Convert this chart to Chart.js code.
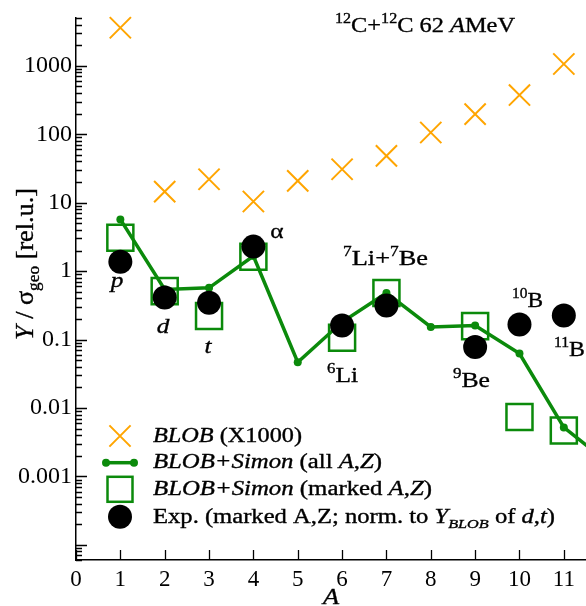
<!DOCTYPE html>
<html><head><meta charset="utf-8">
<script src="https://cdn.jsdelivr.net/npm/chart.js@4.4.1/dist/chart.umd.min.js"></script>
<style>html,body{margin:0;padding:0;background:#fff;}canvas{display:block;}</style>
</head><body>
<canvas id="c" width="586" height="606"></canvas>
<script>
// ---- data ----
const massNumbers   = [1, 2, 3, 4, 5, 6, 7, 8, 9, 10, 11];
const blobTimes1000 = [3600, 14.5, 22, 10.4, 20.8, 30.8, 48.3, 106, 197, 374, 1063];
const simonAllA     = [1, 2, 3, 4, 5, 6, 7, 8, 9, 10, 11, 12];
const simonAll      = [5.7, 0.54, 0.57, 1.66, 0.0466, 0.18, 0.48, 0.153, 0.16, 0.0624, 0.0052, 0.0016];
const markedA       = [1, 2, 3, 4, 6, 7, 9, 10, 11];
const simonMarked   = [3.08, 0.51, 0.22, 1.62, 0.106, 0.48, 0.157, 0.0074, 0.0047];
const expMarked     = [1.37, 0.41, 0.345, 2.28, 0.16, 0.315, 0.078, 0.166, 0.225];
const xTickValues   = [0, 1, 2, 3, 4, 5, 6, 7, 8, 9, 10, 11];
const xTickLabels   = ['0','1','2','3','4','5','6','7','8','9','10','11'];
const yTickValues   = [0.001, 0.01, 0.1, 1, 10, 100, 1000];
const yTickLabels   = ['0.001','0.01','0.1','1','10','100','1000'];

const FONT = '"Liberation Serif", "Times New Roman", serif';
const GREEN = '#0b8a0b';
const ORANGE = '#ffa500';

function pts(xs, ys) { return xs.map((x, i) => ({x: x, y: ys[i]})); }

// ---- rich text helper ----
function segFont(s, size) {
  const sz = (s.sup || s.sub) ? size * 0.66 : size;
  return (s.it ? 'italic ' : '') + sz.toFixed(2) + 'px ' + FONT;
}
function richWidth(ctx, segs, size) {
  let w = 0;
  for (const s of segs) { ctx.font = segFont(s, size); w += ctx.measureText(s.t).width; }
  return w;
}
function drawRich(ctx, segs, o) {
  const nat = richWidth(ctx, segs, o.size);
  const sx = o.width ? o.width / nat : (o.stretch || 1);
  const total = nat * sx;
  ctx.save();
  ctx.translate(o.x, o.y);
  if (o.rotate) ctx.rotate(-Math.PI / 2);
  let off = 0;
  if (o.align === 'center') off = -total / 2; else if (o.align === 'right') off = -total;
  ctx.translate(off, 0);
  ctx.scale(sx, 1);
  ctx.fillStyle = '#000';
  ctx.strokeStyle = '#000';
  ctx.lineWidth = 0.35;
  ctx.textAlign = 'left';
  ctx.textBaseline = 'alphabetic';
  let x = 0;
  for (const s of segs) {
    ctx.font = segFont(s, o.size);
    const dy = s.sup ? -0.40 * o.size : (s.sub ? 0.24 * o.size : 0);
    ctx.fillText(s.t, x, dy);
    ctx.strokeText(s.t, x, dy);
    x += ctx.measureText(s.t).width;
  }
  ctx.restore();
}

// ---- inward tick marks drawn through the chart's own scales ----
const tickPlugin = {
  id: 'inwardTicks',
  afterDraw(chart) {
    const ctx = chart.ctx, ys = chart.scales.y, xs = chart.scales.x, a = chart.chartArea;
    ctx.save();
    ctx.strokeStyle = '#000';
    ctx.lineWidth = 1.3;
    ctx.beginPath();
    for (let d = -5; d <= 3; d++) {
      for (let m = 1; m <= 9; m++) {
        const v = m * Math.pow(10, d);
        if (v < ys.min * 0.999 || v > ys.max * 1.001) continue;
        const y = Math.round(ys.getPixelForValue(v)) + 0.5;
        const len = m === 1 ? 11 : 6;
        ctx.moveTo(a.left, y); ctx.lineTo(a.left + len, y);
      }
    }
    for (const v of xTickValues) {
      const x = Math.round(xs.getPixelForValue(v)) + 0.5;
      ctx.moveTo(x, a.bottom); ctx.lineTo(x, a.bottom - 10);
    }
    ctx.stroke();
    ctx.restore();
  }
};

// ---- texts: title, axis titles, annotations, legend ----
const textPlugin = {
  id: 'texts',
  afterDraw(chart) {
    const ctx = chart.ctx;
    const ds = chart.data.datasets;
    // title
    drawRich(ctx, [{t:'12',sup:1},{t:'C+'},{t:'12',sup:1},{t:'C 62 '},{t:'A',it:1},{t:'MeV'}],
      {x: 335, y: 31.5, size: 22, width: 180});
    // axis titles
    drawRich(ctx, [{t:'Y',it:1},{t:' / σ'},{t:'geo',sub:1},{t:' [rel.u.]'}],
      {x: 33, y: 340, size: 25, width: 152, rotate: true});
    drawRich(ctx, [{t:'A',it:1}], {x: 331, y: 604, size: 24, align: 'center', stretch: 1.1});
    // annotations
    const S = 22, ST = 1.15;
    drawRich(ctx, [{t:'p',it:1}], {x: 117, y: 287, size: S, align: 'center', stretch: ST});
    drawRich(ctx, [{t:'d',it:1}], {x: 163, y: 333, size: S, align: 'center', stretch: ST});
    drawRich(ctx, [{t:'t',it:1}], {x: 208, y: 353, size: S, align: 'center', stretch: ST});
    drawRich(ctx, [{t:'α'}], {x: 277, y: 238, size: S, align: 'center', stretch: ST});
    drawRich(ctx, [{t:'7',sup:1},{t:'Li+'},{t:'7',sup:1},{t:'Be'}], {x: 343, y: 265, size: S, width: 85});
    drawRich(ctx, [{t:'6',sup:1},{t:'Li'}], {x: 327, y: 381.5, size: S, width: 31});
    drawRich(ctx, [{t:'9',sup:1},{t:'Be'}], {x: 453, y: 386.5, size: S, width: 37});
    drawRich(ctx, [{t:'10',sup:1},{t:'B'}], {x: 512, y: 306.5, size: S, width: 31});
    drawRich(ctx, [{t:'11',sup:1},{t:'B'}], {x: 554, y: 356, size: S, width: 31});

    // legend
    const sx = 120, tx = 153;
    const rows = [436, 462.7, 489.3, 516.7];
    const base = [441.7, 468, 494.5, 523];
    ctx.save();
    ctx.strokeStyle = ds[1].pointBorderColor; ctx.lineWidth = ds[1].pointBorderWidth;
    ctx.beginPath();
    ctx.moveTo(sx - 10.6, rows[0] - 10.6); ctx.lineTo(sx + 10.6, rows[0] + 10.6);
    ctx.moveTo(sx - 10.6, rows[0] + 10.6); ctx.lineTo(sx + 10.6, rows[0] - 10.6);
    ctx.stroke();
    ctx.strokeStyle = ds[2].borderColor; ctx.lineWidth = ds[2].borderWidth;
    ctx.beginPath(); ctx.moveTo(106, rows[1]); ctx.lineTo(134, rows[1]); ctx.stroke();
    ctx.fillStyle = ds[2].pointBackgroundColor;
    ctx.beginPath(); ctx.arc(106, rows[1], ds[2].pointRadius, 0, Math.PI * 2); ctx.fill();
    ctx.beginPath(); ctx.arc(134, rows[1], ds[2].pointRadius, 0, Math.PI * 2); ctx.fill();
    ctx.strokeStyle = ds[3].pointBorderColor; ctx.lineWidth = ds[3].pointBorderWidth;
    ctx.strokeRect(sx - 12.5, rows[2] - 12.5, 25, 25);
    ctx.fillStyle = ds[0].pointBackgroundColor;
    ctx.beginPath(); ctx.arc(sx, rows[3], ds[0].pointRadius, 0, Math.PI * 2); ctx.fill();
    ctx.restore();
    const L = 20;
    drawRich(ctx, [{t:'BLOB',it:1},{t:' (X1000)'}], {x: tx, y: base[0], size: L, width: 149});
    drawRich(ctx, [{t:'BLOB+Simon',it:1},{t:' (all '},{t:'A',it:1},{t:','},{t:'Z',it:1},{t:')'}],
      {x: tx, y: base[1], size: L, width: 229});
    drawRich(ctx, [{t:'BLOB+Simon',it:1},{t:' (marked '},{t:'A',it:1},{t:','},{t:'Z',it:1},{t:')'}],
      {x: tx, y: base[2], size: L, width: 279});
    drawRich(ctx, [{t:'Exp. (marked A,Z; norm. to '},{t:'Y',it:1},{t:'BLOB',it:1,sub:1},{t:' of '},
      {t:'d',it:1},{t:','},{t:'t',it:1},{t:')'}], {x: tx, y: base[3], size: L, width: 402});
  }
};

const chart = new Chart(document.getElementById('c'), {
  type: 'line',
  data: {
    datasets: [
      { label: 'Exp. (marked A,Z; norm. to Y_BLOB of d,t)', data: pts(markedA, expMarked),
        showLine: false, pointStyle: 'circle', pointRadius: 12, pointBackgroundColor: '#000',
        pointBorderColor: '#000', pointBorderWidth: 0, borderColor: '#000', order: 0, clip: false },
      { label: 'BLOB (X1000)', data: pts(massNumbers, blobTimes1000),
        showLine: false, pointStyle: 'crossRot', pointRadius: 15, pointBorderColor: ORANGE,
        borderColor: ORANGE, pointBorderWidth: 2, order: 1, clip: false },
      { label: 'BLOB+Simon (all A,Z)', data: pts(simonAllA, simonAll),
        showLine: true, borderColor: GREEN, borderWidth: 3.5, tension: 0,
        pointStyle: 'circle', pointRadius: 4, pointBackgroundColor: GREEN, pointBorderColor: GREEN,
        pointBorderWidth: 0, order: 2, clip: false },
      { label: 'BLOB+Simon (marked A,Z)', data: pts(markedA, simonMarked),
        showLine: false, pointStyle: 'rect', pointRadius: 18.4, pointBorderColor: GREEN,
        borderColor: GREEN, pointBackgroundColor: 'rgba(0,0,0,0)', pointBorderWidth: 2.5, order: 3, clip: false }
    ]
  },
  options: {
    responsive: false, animation: false, devicePixelRatio: 1, events: [],
    layout: { autoPadding: false, padding: { top: 18, left: 0, right: 0, bottom: 0 } },
    plugins: { legend: { display: false }, tooltip: { enabled: false }, title: { display: false } },
    scales: {
      x: {
        type: 'linear', min: 0, max: 11.5,
        grid: { display: false, drawTicks: false },
        border: { display: true, color: '#000', width: 1.5 },
        ticks: {
          autoSkip: false, maxRotation: 0, padding: 6, color: '#000',
          font: { family: FONT, size: 23 },
          callback: (v) => { const i = xTickValues.indexOf(v); return i >= 0 ? xTickLabels[i] : ''; }
        },
        afterBuildTicks: (s) => { s.ticks = xTickValues.map(v => ({ value: v })); },
        afterFit: (s) => { s.height = 46; s.paddingLeft = 0; s.paddingRight = 0; s.paddingTop = 0; s.paddingBottom = 0; }
      },
      y: {
        type: 'logarithmic', min: 6e-5, max: 5000,
        grid: { display: false, drawTicks: false },
        border: { display: true, color: '#000', width: 1.5 },
        ticks: {
          autoSkip: false, padding: 4, color: '#000',
          font: { family: FONT, size: 24 },
          callback: (v) => {
            const i = yTickValues.findIndex(t => Math.abs(t - v) / t < 1e-6);
            return i >= 0 ? yTickLabels[i] : '';
          }
        },
        afterBuildTicks: (s) => { s.ticks = yTickValues.map(v => ({ value: v })); },
        afterFit: (s) => { s.width = 76; s.paddingLeft = 0; s.paddingRight = 0; s.paddingTop = 0; s.paddingBottom = 0; }
      }
    }
  },
  plugins: [tickPlugin, textPlugin]
});
</script>
</body></html>
